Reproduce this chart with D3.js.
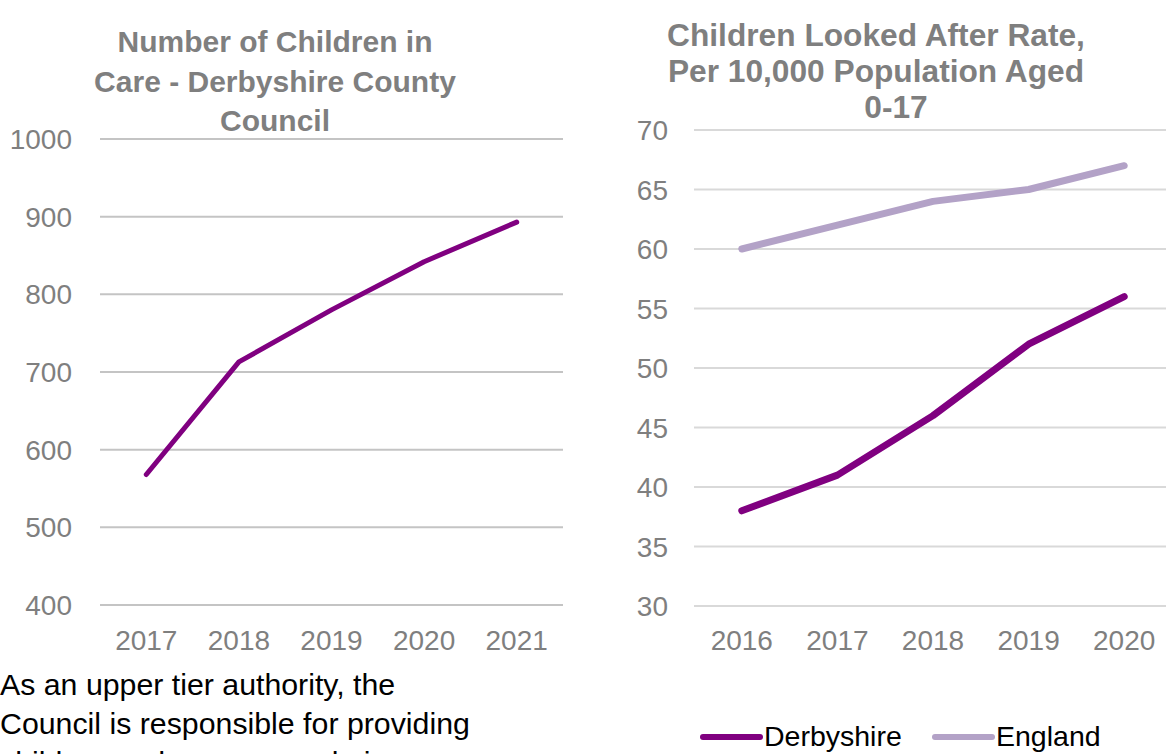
<!DOCTYPE html>
<html><head><meta charset="utf-8">
<script src="https://cdn.jsdelivr.net/npm/d3@7"></script>
<style>
html,body{margin:0;padding:0;background:#fff;overflow:hidden}
svg{display:block;font-family:"Liberation Sans",Arial,sans-serif}
</style></head>
<body>
<svg id="c" width="1166" height="754"></svg>
<script>
// Left chart data
const leftYears = ["2017","2018","2019","2020","2021"];
const leftValues = [568, 713, 780, 842, 893];
const leftTicks = [400,500,600,700,800,900,1000];
const leftTitle = ["Number of Children in","Care - Derbyshire County","Council"];

// Right chart data
const rightYears = ["2016","2017","2018","2019","2020"];
const derbyshire = [38, 41, 46, 52, 56];
const england = [60, 62, 64, 65, 67];
const rightTicks = [30,35,40,45,50,55,60,65,70];
const rightTitle = ["Children Looked After Rate,","Per 10,000 Population Aged","0-17"];
const seriesNames = ["Derbyshire","England"];

const bodyText = ["As an upper tier authority, the","Council is responsible for providing","children and young people in care"];

const svg = d3.select("#c");
const grey = "#7f7f7f";
const purple = "#800080", lavender = "#b3a2c7";

// ---------- Left chart ----------
const lx = d3.scalePoint().domain(leftYears).range([100,563]).padding(0.5);
const ly = d3.scaleLinear().domain([400,1000]).range([605,139]);
const L = svg.append("g");
L.selectAll("line.grid").data(leftTicks).join("line")
  .attr("x1",100).attr("x2",563).attr("y1",d=>ly(d)).attr("y2",d=>ly(d))
  .attr("stroke","#c4c4c4").attr("stroke-width",2);
L.selectAll("text.yt").data(leftTicks).join("text")
  .attr("x",72).attr("y",d=>ly(d)).attr("dy","0.36em").attr("text-anchor","end")
  .attr("font-size",28).attr("fill",grey).text(d=>d);
L.selectAll("text.xt").data(leftYears).join("text")
  .attr("x",d=>lx(d)).attr("y",650).attr("text-anchor","middle")
  .attr("font-size",28).attr("fill",grey).text(d=>d);
L.append("path").datum(leftValues)
  .attr("d",d3.line().x((d,i)=>lx(leftYears[i])).y(d=>ly(d)))
  .attr("fill","none").attr("stroke",purple).attr("stroke-width",5)
  .attr("stroke-linecap","round").attr("stroke-linejoin","round");
L.selectAll("text.title").data(leftTitle).join("text")
  .attr("x",275).attr("y",(d,i)=>52+i*39.5).attr("text-anchor","middle")
  .attr("font-size",30).attr("font-weight","bold").attr("fill",grey).text(d=>d);

// ---------- Right chart ----------
const rx = d3.scalePoint().domain(rightYears).range([694,1172]).padding(0.5);
const ry = d3.scaleLinear().domain([30,70]).range([606,130]);
const R = svg.append("g");
R.selectAll("line.grid").data(rightTicks).join("line")
  .attr("x1",694).attr("x2",1172).attr("y1",d=>ry(d)).attr("y2",d=>ry(d))
  .attr("stroke","#d9d9d9").attr("stroke-width",2);
R.selectAll("text.yt").data(rightTicks).join("text")
  .attr("x",668).attr("y",d=>ry(d)).attr("dy","0.36em").attr("text-anchor","end")
  .attr("font-size",28).attr("fill",grey).text(d=>d);
R.selectAll("text.xt").data(rightYears).join("text")
  .attr("x",d=>rx(d)).attr("y",650).attr("text-anchor","middle")
  .attr("font-size",28).attr("fill",grey).text(d=>d);
const rline = d3.line().x((d,i)=>rx(rightYears[i])).y(d=>ry(d));
[[england,lavender],[derbyshire,purple]].forEach(([vals,col])=>{
  R.append("path").datum(vals).attr("d",rline)
    .attr("fill","none").attr("stroke",col).attr("stroke-width",7)
    .attr("stroke-linecap","round").attr("stroke-linejoin","round");
});
const rtx = [876,876,896];
R.selectAll("text.title").data(rightTitle).join("text")
  .attr("x",(d,i)=>rtx[i]).attr("y",(d,i)=>46+i*36).attr("text-anchor","middle")
  .attr("font-size",31.7).attr("font-weight","bold").attr("fill",grey).text(d=>d);

// Legend
const legX = [703, 935];
const legCols = [purple, lavender];
const leg = R.selectAll("g.leg").data(seriesNames).join("g");
leg.append("line").attr("x1",(d,i)=>legX[i]).attr("x2",(d,i)=>legX[i]+57)
  .attr("y1",737).attr("y2",737).attr("stroke",(d,i)=>legCols[i])
  .attr("stroke-width",6).attr("stroke-linecap","round");
leg.append("text").attr("x",(d,i)=>legX[i]+61).attr("y",746)
  .attr("font-size",28.5).attr("fill","#000").text(d=>d);

// Body text
svg.selectAll("text.body").data(bodyText).join("text")
  .attr("x",0).attr("y",(d,i)=>695+i*39).attr("font-size",30.3).attr("fill","#000").text(d=>d);
</script>
</body></html>
